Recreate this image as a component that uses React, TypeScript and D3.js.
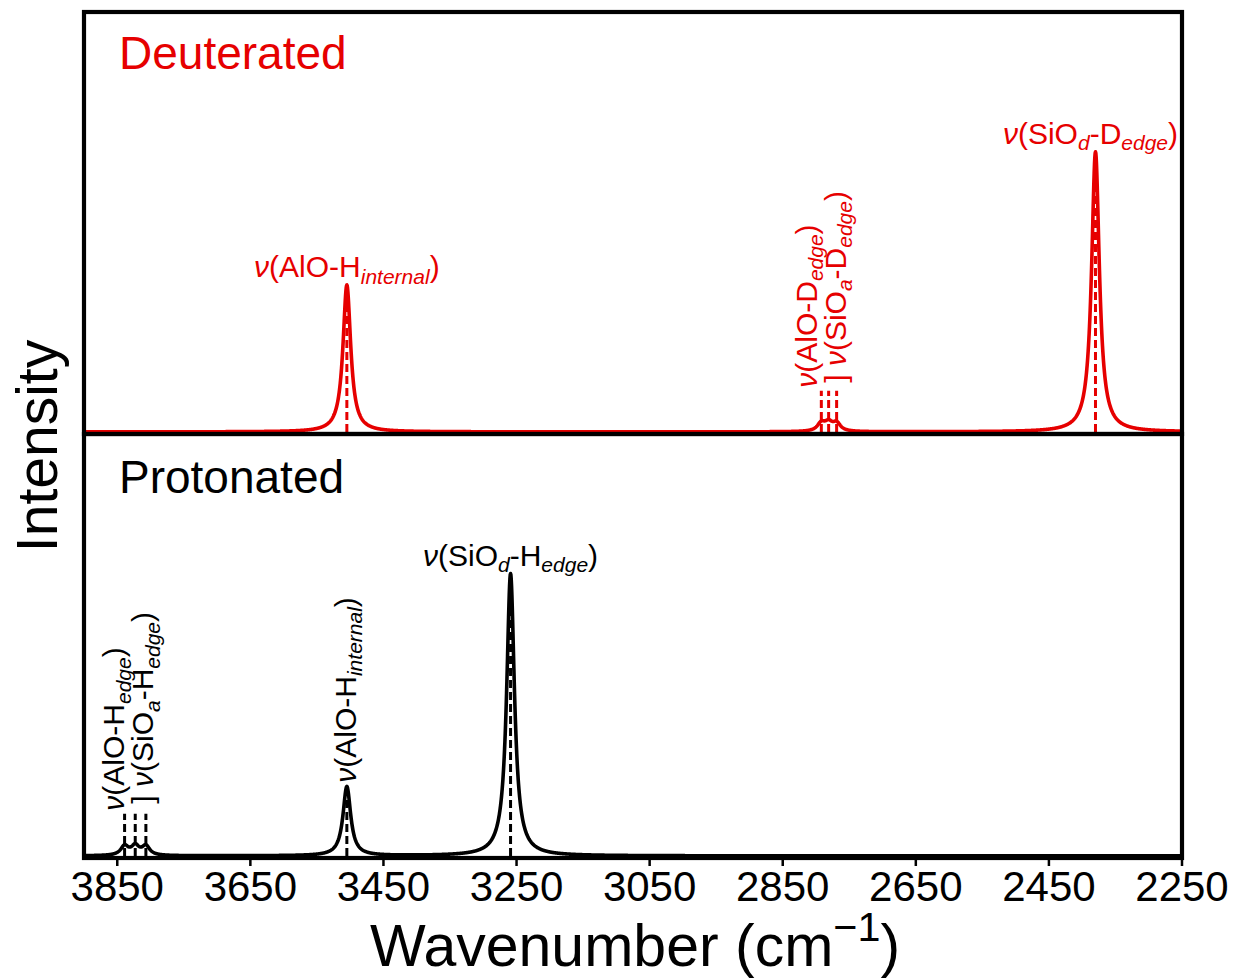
import React from "react";
import * as d3 from "d3";

// ---------- data ----------
const X_DOMAIN: [number, number] = [3900, 2250];
const X_TICKS = [3850, 3650, 3450, 3250, 3050, 2850, 2650, 2450, 2250];

// Deuterated panel (top)
const deutCenters = [3505, 2792, 2781, 2769, 2380];
const deutAmps = [0.35, 0.019, 0.019, 0.019, 0.667];
const deutSticks = [0.35, 0.098, 0.098, 0.098, 0.667];

// Protonated panel (bottom)
const protCenters = [3839, 3823, 3807, 3505, 3259];
const protAmps = [0.022, 0.022, 0.022, 0.164, 0.669];
const protSticks = [0.1, 0.1, 0.1, 0.164, 0.669];

const HWHM = 7;

const RED = "#e60000";
const BLACK = "#000000";
const FONT = "'Liberation Sans', Arial, Helvetica, sans-serif";

// ---------- layout ----------
const W = 1237;
const H = 980;
const PLOT_L = 84;
const PLOT_R = 1182;
const TOP_Y0 = 12;
const MID_Y = 434;
const BOT_Y1 = 858;

const x = d3.scaleLinear().domain(X_DOMAIN).range([PLOT_L, PLOT_R]);
const yTop = d3.scaleLinear().domain([-0.005, 1]).range([MID_Y, TOP_Y0]);
const yBot = d3.scaleLinear().domain([-0.005, 1]).range([BOT_Y1, MID_Y]);

const grid = d3.range(X_DOMAIN[1], X_DOMAIN[0] + 0.001, 0.5);

function spectrum(centers: number[], amps: number[]) {
  return grid.map((w) => {
    let s = 0;
    centers.forEach((c, i) => {
      const d = w - c;
      s += (amps[i] * HWHM * HWHM) / (d * d + HWHM * HWHM);
    });
    return [w, s] as [number, number];
  });
}

// rich text: ν italic, _{..} italic subscript, ^{..} superscript
function Rich({ src, fs }: { src: string; fs: number }) {
  const re = /_\{([^}]*)\}|\^\{([^}]*)\}|ν|[^_^ν]+/g;
  const out: React.ReactNode[] = [];
  let m: RegExpExecArray | null;
  let shift = 0;
  let k = 0;
  while ((m = re.exec(src))) {
    if (m[1] !== undefined) {
      const dy = 0.22 * fs;
      out.push(
        <tspan key={k++} dy={dy - shift} fontSize={fs * 0.7} fontStyle="italic">
          {m[1]}
        </tspan>
      );
      shift = dy;
    } else if (m[2] !== undefined) {
      const dy = -0.42 * fs;
      out.push(
        <tspan key={k++} dy={dy - shift} fontSize={fs * 0.7}>
          {m[2]}
        </tspan>
      );
      shift = dy;
    } else if (m[0] === "ν") {
      out.push(
        <tspan key={k++} dy={-shift} fontStyle="italic">
          ν
        </tspan>
      );
      shift = 0;
    } else {
      out.push(
        <tspan key={k++} dy={-shift} style={{ whiteSpace: "pre" }}>
          {m[0]}
        </tspan>
      );
      shift = 0;
    }
  }
  return <>{out}</>;
}

type Lab = { text: string; wn: number; h: number; rot: boolean; dx: number; dy: number };

const deutLabels: Lab[] = [
  { text: "ν(AlO-H_{internal})", wn: 3505, h: 0.35, rot: false, dx: 0, dy: -8 },
  { text: "ν(SiO_{d}-D_{edge})", wn: 2380, h: 0.667, rot: false, dx: -5, dy: -8 },
  { text: "ν(AlO-D_{edge})", wn: 2781, h: 0.098, rot: true, dx: -12, dy: -3 },
  { text: "] ν(SiO_{a}-D_{edge})", wn: 2781, h: 0.098, rot: true, dx: 17, dy: -8 },
];
const protLabels: Lab[] = [
  { text: "ν(SiO_{d}-H_{edge})", wn: 3259, h: 0.669, rot: false, dx: 0, dy: -8 },
  { text: "ν(AlO-H_{internal})", wn: 3505, h: 0.164, rot: true, dx: 9, dy: -4 },
  { text: "ν(AlO-H_{edge})", wn: 3823, h: 0.1, rot: true, dx: -11, dy: -3 },
  { text: "] ν(SiO_{a}-H_{edge})", wn: 3823, h: 0.1, rot: true, dx: 18, dy: -10 },
];

function Panel({
  centers,
  amps,
  sticks,
  y,
  color,
  labels,
}: {
  centers: number[];
  amps: number[];
  sticks: number[];
  y: d3.ScaleLinear<number, number>;
  color: string;
  labels: Lab[];
}) {
  const line = d3
    .line<[number, number]>()
    .x((d) => x(d[0]))
    .y((d) => y(d[1]));
  const data = spectrum(centers, amps);
  return (
    <g>
      <path d={line(data) || ""} fill="none" stroke={color} strokeWidth={3.6} strokeLinejoin="round" />
      {centers.map((c, i) => (
        <line
          key={i}
          x1={x(c)}
          x2={x(c)}
          y1={y(0)}
          y2={y(sticks[i])}
          stroke={color}
          strokeWidth={3}
          strokeDasharray="8,4"
        />
      ))}
      {labels.map((l, i) => {
        const px = x(l.wn) + l.dx;
        const py = y(l.h) + l.dy;
        return l.rot ? (
          <text
            key={i}
            transform={`translate(${px},${py}) rotate(-90)`}
            fontSize={30}
            fill={color}
            fontFamily={FONT}
            textAnchor="start"
            style={{ whiteSpace: "pre" }}
          >
            <Rich src={l.text} fs={30} />
          </text>
        ) : (
          <text key={i} x={px} y={py} fontSize={30} fill={color} fontFamily={FONT} textAnchor="middle">
            <Rich src={l.text} fs={30} />
          </text>
        );
      })}
    </g>
  );
}

export default function App() {
  return (
    <svg width={W} height={H} style={{ display: "block", position: "absolute", left: 0, top: 0, background: "#fff" }}>
      <rect x={0} y={0} width={W} height={H} fill="#fff" />
      <Panel centers={deutCenters} amps={deutAmps} sticks={deutSticks} y={yTop} color={RED} labels={deutLabels} />
      <Panel centers={protCenters} amps={protAmps} sticks={protSticks} y={yBot} color={BLACK} labels={protLabels} />

      {/* frames */}
      <rect x={PLOT_L} y={TOP_Y0} width={PLOT_R - PLOT_L} height={MID_Y - TOP_Y0} fill="none" stroke="#000" strokeWidth={4.2} />
      <rect x={PLOT_L} y={MID_Y} width={PLOT_R - PLOT_L} height={BOT_Y1 - MID_Y} fill="none" stroke="#000" strokeWidth={4.2} />

      {/* panel titles */}
      <text x={119} y={69} fontSize={46} fill={RED} fontFamily={FONT}>
        Deuterated
      </text>
      <text x={119} y={493} fontSize={46} fill={BLACK} fontFamily={FONT}>
        Protonated
      </text>

      {/* x ticks */}
      {X_TICKS.map((t) => (
        <g key={t}>
          <line x1={x(t)} x2={x(t)} y1={BOT_Y1} y2={BOT_Y1 + 8} stroke="#000" strokeWidth={2.5} />
          <text x={x(t)} y={901} fontSize={42} textAnchor="middle" fontFamily={FONT} fill="#000">
            {t}
          </text>
        </g>
      ))}

      {/* axis labels */}
      <text x={(PLOT_L + PLOT_R) / 2 + 2} y={966} fontSize={59} textAnchor="middle" fontFamily={FONT} fill="#000">
        <Rich src="Wavenumber (cm^{−1})" fs={59} />
      </text>
      <text
        transform={`translate(57,446) rotate(-90)`}
        fontSize={57}
        textAnchor="middle"
        fontFamily={FONT}
        fill="#000"
      >
        Intensity
      </text>
    </svg>
  );
}
